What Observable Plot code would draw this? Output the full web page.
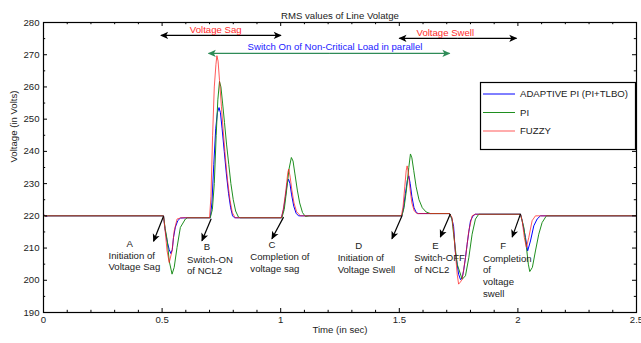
<!DOCTYPE html>
<html><head><meta charset="utf-8">
<script src="https://cdn.jsdelivr.net/npm/d3@7"></script>
<script src="https://cdn.jsdelivr.net/npm/@observablehq/plot@0.6"></script>
<style>
body{margin:0;background:#fff}
#chart{width:641px;height:343px}
</style>
</head><body><div id="chart"></div>
<script>
// ---- series (time in s, RMS voltage in V) ----
const seriesNames = ["ADAPTIVE PI (PI+TLBO)", "PI", "FUZZY"];
const seriesColors = ["#0000ff", "#1f8f1f", "#ff1a1a"];

const adaptivePI = [
  [0,220.4],[0.01,219.8],[0.02,220],[0.506,220],
  [0.512,216],[0.520,212.5],[0.530,209.5],[0.537,208.3],[0.543,209.5],[0.548,213.3],[0.556,216.5],[0.566,218.5],[0.577,219.3],[0.6,219.4],
  [0.703,219.4],[0.710,224],[0.718,236],[0.726,247],[0.733,252],[0.740,253.6],[0.746,252],[0.753,247],[0.762,240],[0.771,233],[0.780,227],[0.789,222.5],[0.797,220],[0.805,219.4],
  [1.003,219.4],[1.012,222],[1.020,226],[1.027,230],[1.033,231.4],[1.039,230],[1.046,226.5],[1.055,223],[1.065,220.8],[1.075,220],
  [1.511,220],[1.518,222.5],[1.526,227],[1.534,231],[1.540,232.4],[1.546,230],[1.553,226],[1.562,222.5],[1.572,221],[1.580,220.7],
  [1.712,220.7],[1.722,219],[1.729,216.7],[1.736,209],[1.744,205],[1.750,201.9],[1.758,200.2],[1.765,200.8],[1.771,202.9],[1.779,207],[1.786,211.2],[1.793,215],[1.800,218.4],[1.810,219.9],[1.820,220.5],
  [2.011,220.5],[2.018,218.5],[2.032,213.3],[2.041,209.1],[2.053,212.2],[2.067,216.9],[2.081,219],[2.095,220],[2.5,220]
];
const pi = [
  [0,220],[0.506,220],
  [0.513,216],[0.521,212.7],[0.530,206],[0.542,201.9],[0.551,204],[0.563,210.2],[0.577,216.4],[0.598,219],[0.607,219.4],
  [0.703,219.4],[0.712,222],[0.720,230],[0.728,245],[0.735,256],[0.742,261.7],[0.748,260],[0.755,255],[0.763,249],[0.772,242],[0.781,236],[0.790,230],[0.800,225],[0.810,221.5],[0.822,219.6],[0.830,219.4],
  [1.005,219.4],[1.015,222],[1.025,228],[1.035,234.5],[1.045,238.1],[1.052,237],[1.060,233],[1.070,228],[1.080,224],[1.092,221],[1.104,219.8],[1.120,220],
  [1.511,220],[1.520,222.5],[1.530,228],[1.540,235],[1.547,239.2],[1.553,238],[1.561,234],[1.571,229],[1.583,225],[1.597,222.5],[1.613,221.2],[1.631,220.7],
  [1.712,220.7],[1.722,219],[1.729,214.3],[1.744,205],[1.765,200.3],[1.779,201.4],[1.793,207],[1.807,214.3],[1.821,219],[1.835,220.5],
  [2.011,220.5],[2.025,216.4],[2.036,210.2],[2.044,205],[2.050,202.7],[2.061,204],[2.074,209.1],[2.088,214.3],[2.102,217.9],[2.120,220],[2.5,220]
];
const fuzzy = [
  [0,220.5],[0.008,219.8],[0.015,220],[0.506,220],
  [0.513,215.3],[0.521,209.1],[0.530,205.5],[0.542,209.1],[0.551,215.3],[0.563,219],[0.580,219.4],
  [0.700,219.4],[0.706,226],[0.713,245],[0.720,260],[0.727,267],[0.731,269.7],[0.736,268],[0.742,262],[0.750,254],[0.758,246],[0.767,238],[0.776,231],[0.786,225],[0.796,221],[0.808,219.4],
  [1.003,219.4],[1.012,222.5],[1.022,228],[1.030,233.5],[1.034,234.5],[1.040,232],[1.047,228],[1.056,224],[1.067,221.3],[1.083,220],
  [1.509,220],[1.516,223],[1.523,229],[1.529,234],[1.533,235.5],[1.538,233.5],[1.545,228.5],[1.553,224],[1.563,221.5],[1.575,220.7],
  [1.712,220.7],[1.722,219.5],[1.729,215.3],[1.736,209],[1.744,201.9],[1.750,198.8],[1.758,199.5],[1.765,200.3],[1.779,207],[1.793,215.3],[1.807,220],[1.820,220.5],
  [2.011,220.5],[2.018,218.5],[2.027,213.3],[2.036,210.2],[2.046,213.3],[2.060,218.5],[2.074,220],[2.5,220]
];

// ---- ticks ----
const xMajorTicks = [0, 0.5, 1, 1.5, 2, 2.5];
const xTickLabels = ["0", "0.5", "1", "1.5", "2", "2.5"];
const xMinorTicks = [0.1,0.2,0.3,0.4,0.6,0.7,0.8,0.9,1.1,1.2,1.3,1.4,1.6,1.7,1.8,1.9,2.1,2.2,2.3,2.4];
const yMajorTicks = [190, 200, 210, 220, 230, 240, 250, 260, 270, 280];
const yMinorTicks = [195, 205, 215, 225, 235, 245, 255, 265, 275];

// ---- texts ----
const titleText = "RMS values of Line Volatge";
const xLabel = "Time (in sec)";
const yLabel = "Voltage (in Volts)";

// ---- annotations ----
const eventArrows = [
  {t1:0.506, v1:219.9, t2:0.464, v2:212.1},
  {t1:0.707, v1:219.1, t2:0.668, v2:212.3},
  {t1:1.012, v1:219.6, t2:0.963, v2:212.9},
  {t1:1.512, v1:220.1, t2:1.469, v2:212.9},
  {t1:1.715, v1:220.6, t2:1.673, v2:213.4},
  {t1:2.011, v1:220.6, t2:1.976, v2:213.4}
];
const eventLetters = [
  {t:0.363, v:211.3, text:"A"},
  {t:0.689, v:210.3, text:"B"},
  {t:0.963, v:211.0, text:"C"},
  {t:1.329, v:210.8, text:"D"},
  {t:1.652, v:210.6, text:"E"},
  {t:1.938, v:210.8, text:"F"}
];
const eventLines = [
  {t:0.274, v:207.7, text:"Initiation of"},
  {t:0.274, v:204.1, text:"Voltage Sag"},
  {t:0.605, v:206.4, text:"Switch-ON"},
  {t:0.605, v:203.0, text:"of NCL2"},
  {t:0.872, v:207.2, text:"Completion of"},
  {t:0.872, v:203.6, text:"voltage sag"},
  {t:1.240, v:207.0, text:"Initiation of"},
  {t:1.240, v:203.3, text:"Voltage Swell"},
  {t:1.563, v:206.8, text:"Switch-OFF"},
  {t:1.563, v:203.1, text:"of NCL2"},
  {t:1.853, v:206.7, text:"Completion"},
  {t:1.853, v:203.1, text:"of"},
  {t:1.853, v:199.5, text:"voltage"},
  {t:1.853, v:195.9, text:"swell"}
];
const spanArrowsBlack = [
  {from:0.495, to:1.001, v:276.0},
  {from:1.500, to:1.994, v:275.1}
];
const spanArrowsGreen = [
  {from:0.696, to:1.712, v:270.4}
];
const spanLabels = [
  {t:0.726, v:277.7, text:"Voltage Sag"},
  {t:1.694, v:276.8, text:"Voltage Swell"},
  {t:1.229, v:272.4, text:"Switch On of Non-Critical Load in parallel"}
];

const toRows = (arr) => arr.map(([t, v]) => ({t, v}));
const FS = 9.6;
const half = (d) => (d.from + d.to) / 2;
// inward tick lengths expressed in data units (px / px-per-unit)
const pxX = 593 / 2.5, pxY = 290 / 90;
const tick = (px, per) => px / per;

const svg = Plot.plot({
  width: 641, height: 343,
  marginLeft: 43, marginRight: 5, marginTop: 22, marginBottom: 31,
  style: {fontFamily: "'Liberation Sans', Arial, sans-serif", fontSize: FS + "px", color: "#222", background: "#fff"},
  x: {domain: [0, 2.5]},
  y: {domain: [190, 280]},
  marks: [
    Plot.line(toRows(adaptivePI), {x: "t", y: "v", stroke: seriesColors[0], strokeWidth: 1}),
    Plot.line(toRows(pi), {x: "t", y: "v", stroke: seriesColors[1], strokeWidth: 1}),
    Plot.line(toRows(fuzzy), {x: "t", y: "v", stroke: seriesColors[2], strokeWidth: 1, strokeOpacity: 0.72}),
    // inward ticks (bottom, top, left, right)
    Plot.ruleX(xMajorTicks, {x: d => d, y1: 190, y2: 190 + tick(4, pxY), stroke: "#000"}),
    Plot.ruleX(xMinorTicks, {x: d => d, y1: 190, y2: 190 + tick(2.2, pxY), stroke: "#000"}),
    Plot.ruleX(xMajorTicks, {x: d => d, y1: 280, y2: 280 - tick(4, pxY), stroke: "#000"}),
    Plot.ruleX(xMinorTicks, {x: d => d, y1: 280, y2: 280 - tick(2.2, pxY), stroke: "#000"}),
    Plot.ruleY(yMajorTicks, {y: d => d, x1: 0, x2: tick(4, pxX), stroke: "#000"}),
    Plot.ruleY(yMinorTicks, {y: d => d, x1: 0, x2: tick(2.2, pxX), stroke: "#000"}),
    Plot.ruleY(yMajorTicks, {y: d => d, x1: 2.5, x2: 2.5 - tick(4, pxX), stroke: "#000"}),
    Plot.ruleY(yMinorTicks, {y: d => d, x1: 2.5, x2: 2.5 - tick(2.2, pxX), stroke: "#000"}),
    Plot.frame({stroke: "#000", strokeWidth: 1.2}),
    // tick labels
    Plot.axisX(xMajorTicks, {anchor: "bottom", tickSize: 0, tickPadding: 4, tickFormat: (d, i) => xTickLabels[i], label: null, fontSize: FS}),
    Plot.axisY(yMajorTicks, {anchor: "left", tickSize: 0, tickPadding: 4, tickFormat: d => String(d), label: null, fontSize: FS}),
    // titles
    Plot.text([titleText], {frameAnchor: "top", dy: -10, fontSize: FS, fill: "#222"}),
    Plot.text([xLabel], {frameAnchor: "bottom", dy: 20, fontSize: FS, fill: "#222"}),
    Plot.text([yLabel], {frameAnchor: "left", dx: -30, dy: -5, rotate: -90, fontSize: FS, fill: "#222"}),
    // event arrows and labels
    Plot.link(eventArrows, {x1: "t1", y1: "v1", x2: "t2", y2: "v2", stroke: "#000", strokeWidth: 1.2, markerEnd: "arrow"}),
    Plot.text(eventLetters, {x: "t", y: "v", text: "text", textAnchor: "middle", fontSize: FS, fill: "#222"}),
    Plot.text(eventLines, {x: "t", y: "v", text: "text", textAnchor: "start", fontSize: FS, fill: "#222"}),
    // span arrows (double headed)
    Plot.link(spanArrowsBlack, {x1: half, x2: "from", y1: "v", y2: "v", stroke: "#000", strokeWidth: 1.2, markerEnd: "arrow"}),
    Plot.link(spanArrowsBlack, {x1: half, x2: "to", y1: "v", y2: "v", stroke: "#000", strokeWidth: 1.2, markerEnd: "arrow"}),
    Plot.link(spanArrowsGreen, {x1: half, x2: "from", y1: "v", y2: "v", stroke: "#2e8b57", strokeWidth: 1.2, markerEnd: "arrow"}),
    Plot.link(spanArrowsGreen, {x1: half, x2: "to", y1: "v", y2: "v", stroke: "#2e8b57", strokeWidth: 1.2, markerEnd: "arrow"}),
    Plot.text(spanLabels.slice(0, 2), {x: "t", y: "v", text: "text", fill: "#ff2a2a", fontSize: FS}),
    Plot.text(spanLabels.slice(2), {x: "t", y: "v", text: "text", fill: "#1a1aff", fontSize: FS})
  ]
});

// filled arrowheads
svg.querySelectorAll("marker").forEach(m => {
  const c = m.getAttribute("stroke") || "#000";
  m.setAttribute("viewBox", "-10 -6 12 12");
  m.setAttribute("markerWidth", 8);
  m.setAttribute("markerHeight", 8);
  m.setAttribute("fill", c);
  m.setAttribute("stroke", "none");
  const p = m.querySelector("path");
  if (p) p.setAttribute("d", "M-9,-4.5L1,0L-9,4.5L-6.5,0Z");
});

// legend box (inside the axes, top right)
const lg = d3.select(svg).append("g").attr("font-size", FS)
  .attr("font-family", "'Liberation Sans', Arial, sans-serif").attr("text-anchor", "start");
lg.append("rect").attr("x", 480.5).attr("y", 82.5).attr("width", 155).attr("height", 67)
  .attr("fill", "#fff").attr("stroke", "#000").attr("stroke-width", 1.2);
seriesNames.forEach((name, i) => {
  const y = 94 + i * 18.5;
  lg.append("line").attr("x1", 483).attr("x2", 515).attr("y1", y).attr("y2", y)
    .attr("stroke", seriesColors[i]).attr("stroke-opacity", i === 2 ? 0.72 : 1);
  lg.append("text").attr("x", 520).attr("y", y).attr("dy", "0.35em")
    .attr("text-anchor", "start").attr("fill", "#222").text(name);
});

document.getElementById("chart").appendChild(svg);
</script>
</body></html>
